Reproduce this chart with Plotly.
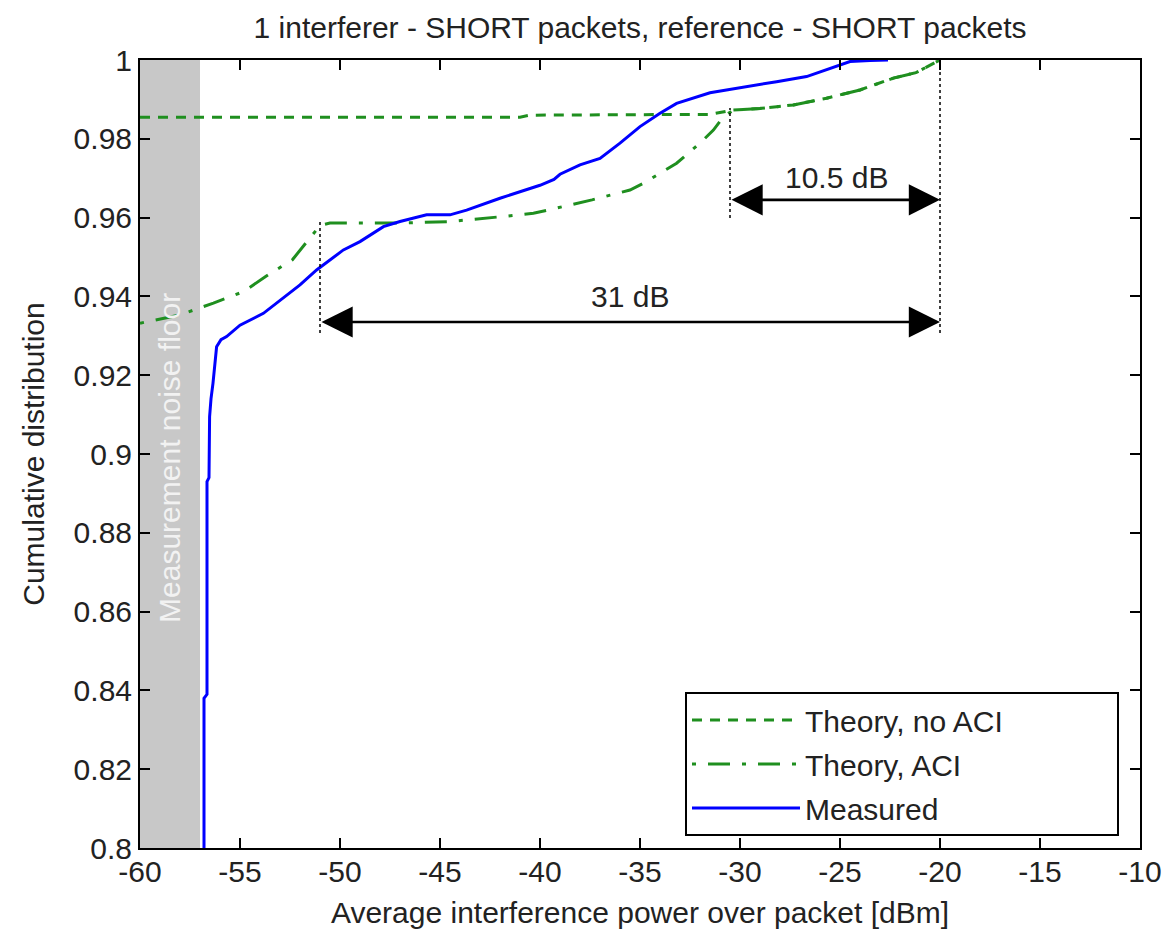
import plotly.graph_objects as go

# ---------------- data ----------------
meas_x = [-56.80, -56.80, -56.65, -56.65, -56.55, -56.52, -56.45, -56.35, -56.17, -55.95,
          -55.67, -55.0, -53.83, -52.5, -52.0, -51.17, -49.83, -49.0, -47.83, -47.0,
          -45.67, -44.5, -43.67, -42.0, -41.0, -40.0, -39.3, -39.0, -38.0, -37.0, -36.0,
          -35.0, -34.0, -33.17, -31.5, -29.83, -28.17, -26.67, -25.67, -24.5, -23.5, -22.6]
meas_y = [0.800, 0.838, 0.839, 0.893, 0.894, 0.9095, 0.914, 0.918, 0.9272, 0.9290,
          0.9298, 0.9327, 0.9357, 0.9408, 0.9429, 0.9467, 0.9518, 0.9539, 0.9577, 0.9590,
          0.9607, 0.9607, 0.9619, 0.9649, 0.9666, 0.9682, 0.9697, 0.9710, 0.9734, 0.9750, 0.9789,
          0.9831, 0.9865, 0.9890, 0.9917, 0.9932, 0.9945, 0.9958, 0.9975, 0.9996, 0.9999, 1.0]

aci_x = [-60, -58, -56.33, -54.83, -53.7, -52.38, -51.0, -50.5, -47.0, -44.5, -42.0,
         -40.33, -38.75, -37.4, -35.5, -34.83, -33.17, -32.0, -31.33, -30.83, -30.33,
         -29.0, -27.33, -25.67, -24.0, -22.33, -21.2, -20.0]
aci_y = [0.9332, 0.9353, 0.9383, 0.9412, 0.9451, 0.9493, 0.9580, 0.9586, 0.9586, 0.9590, 0.9602,
         0.9611, 0.9629, 0.9645, 0.9670, 0.9687, 0.9738, 0.9789, 0.9822, 0.9856, 0.9873,
         0.9877, 0.9886, 0.9903, 0.9924, 0.9954, 0.9968, 1.0]

noaci_x = [-60, -41, -40.5, -31.5, -30.33, -29.0, -27.33, -25.67, -24.0, -22.33, -21.2, -20.0]
noaci_y = [0.9855, 0.9855, 0.9860, 0.9862, 0.9873, 0.9877, 0.9886, 0.9903, 0.9924, 0.9954, 0.9968, 1.0]

series_names = ["Theory, no ACI", "Theory, ACI", "Measured"]

noise_floor_x = [-60, -57]
noise_floor_label = "Measurement noise floor"

# dimension markers: (x, y_bottom, y_top)
guide_lines = [(-51.0, 0.9307, 0.9594), (-30.5, 0.9599, 0.9878), (-20.0, 0.9307, 1.0)]
# arrows: (x_from, x_to, y, label, label_x, label_y)
arrows = [(-51.0, -20.0, 0.9335, "31 dB", -35.5, 0.9400),
          (-30.5, -20.0, 0.9645, "10.5 dB", -25.2, 0.9703)]

x_ticks = list(range(-60, -9, 5))
x_tick_text = [str(v) for v in x_ticks]
y_ticks = [0.8, 0.82, 0.84, 0.86, 0.88, 0.9, 0.92, 0.94, 0.96, 0.98, 1.0]
y_tick_text = ["0.8", "0.82", "0.84", "0.86", "0.88", "0.9", "0.92", "0.94", "0.96", "0.98", "1"]

title_text = "1 interferer - SHORT packets, reference - SHORT packets"
x_title = "Average interference power over packet [dBm]"
y_title = "Cumulative distribution"

# ---------------- figure ----------------
FONT = "Liberation Sans, Arial, sans-serif"
GREEN = "#1f8f1f"
FS = 30
TXT = "#222222"
PAD = "\u00a0" * 13  # widens the legend box like the original

fig = go.Figure()
fig.add_trace(go.Scatter(x=noaci_x, y=noaci_y, mode="lines", name=series_names[0] + PAD,
                         legendgroup="a",
                         line=dict(color=GREEN, width=3, dash="10px,8px")))
fig.add_trace(go.Scatter(x=aci_x, y=aci_y, mode="lines", name=series_names[1],
                         legendgroup="b",
                         line=dict(color=GREEN, width=3, dash="4px,12px,22px,12px")))
fig.add_trace(go.Scatter(x=meas_x, y=meas_y, mode="lines", name=series_names[2],
                         legendgroup="c",
                         line=dict(color="#0000ff", width=3)))

shapes = [dict(type="rect", xref="x", yref="paper", x0=noise_floor_x[0], x1=noise_floor_x[1],
               y0=0, y1=1, fillcolor="#c8c8c8", line=dict(width=0), layer="below")]
for gx, gy0, gy1 in guide_lines:
    shapes.append(dict(type="line", xref="x", yref="y", x0=gx, x1=gx, y0=gy0, y1=gy1,
                       line=dict(color="black", width=1.5, dash="dot")))

annotations = [dict(x=sum(noise_floor_x) / 2, y=0.899, xref="x", yref="y", text=noise_floor_label,
                    textangle=-90, showarrow=False, font=dict(family=FONT, size=FS, color="#f2f2f2"))]
for x0, x1, ay, lab, lx, ly in arrows:
    annotations.append(dict(x=x1, y=ay, ax=x0, ay=ay, xref="x", yref="y", axref="x", ayref="y",
                            text="", showarrow=True, arrowside="end+start",
                            arrowhead=2, startarrowhead=2, arrowsize=2.4, startarrowsize=2.4,
                            arrowwidth=2.6, arrowcolor="black", standoff=0, startstandoff=0))
    annotations.append(dict(x=lx, y=ly, xref="x", yref="y", text=lab, showarrow=False,
                            font=dict(family=FONT, size=FS, color=TXT)))

fig.update_layout(
    width=1168, height=931,
    margin=dict(l=140, r=28, t=60, b=83, autoexpand=False),
    paper_bgcolor="white", plot_bgcolor="white",
    font=dict(family=FONT, size=FS, color=TXT),
    title=dict(text=title_text, x=0.548, xanchor="center", y=0.970, yanchor="middle",
               font=dict(family=FONT, size=FS, color=TXT)),
    shapes=shapes, annotations=annotations,
    showlegend=True,
    legend=dict(x=0.545, y=0.198, xanchor="left", yanchor="top", bgcolor="white",
                bordercolor="black", borderwidth=2, itemwidth=108, tracegroupgap=2,
                font=dict(family=FONT, size=FS, color=TXT)),
)
fig.update_xaxes(range=[-60, -10], tickvals=x_ticks, ticktext=x_tick_text, ticks="inside",
                 ticklen=10, tickwidth=1.5, automargin=False, ticklabelstandoff=-4,
                 tickcolor="black", showline=True, linecolor="black", linewidth=2, mirror="ticks",
                 showgrid=False, zeroline=False,
                 title=dict(text=x_title, standoff=15, font=dict(size=FS)),
                 tickfont=dict(size=FS))
fig.update_yaxes(range=[0.8, 1.0], tickvals=y_ticks, ticktext=y_tick_text, ticks="inside",
                 ticklen=10, tickwidth=1.5, tickcolor="black", showline=True, linecolor="black",
                 linewidth=2, mirror="ticks", showgrid=False, zeroline=False, automargin=False,
                 title=dict(text=y_title, standoff=20, font=dict(size=FS)),
                 tickfont=dict(size=FS))

fig.write_html("out.html")
